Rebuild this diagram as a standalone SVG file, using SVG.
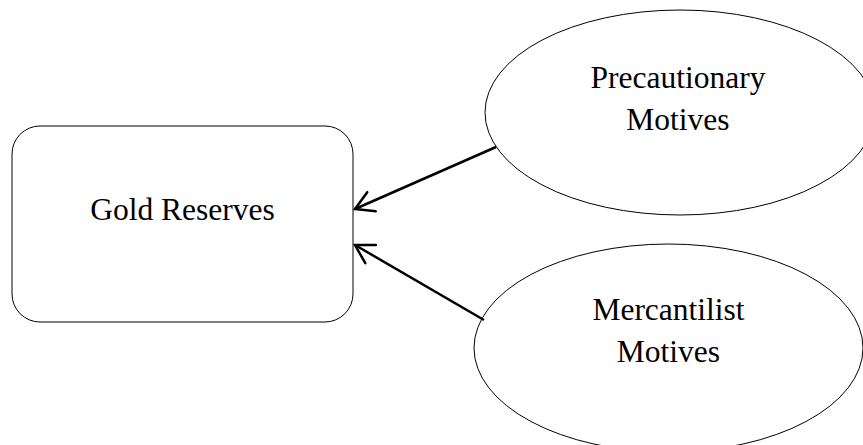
<svg xmlns="http://www.w3.org/2000/svg" width="863" height="445" viewBox="0 0 863 445">
<style>
.node{fill:#fff;stroke:#000;stroke-width:1}
.lbl{font-family:"Liberation Serif","Times New Roman",serif;font-size:31.5px;fill:#000;text-anchor:middle}
.conn{stroke:#000;stroke-width:2.5;fill:none}
</style>
<defs>
<marker id="openArrow" markerUnits="userSpaceOnUse" markerWidth="40" markerHeight="40" orient="auto" refX="0" refY="0" overflow="visible" viewBox="-20 -20 40 40">
<path d="M-18,-10.5 L0,0 L-18,10.5" fill="none" stroke="#000" stroke-width="2.5" stroke-linecap="round" stroke-linejoin="miter"/>
</marker>
</defs>
<rect width="863" height="445" fill="#fff"/>
<g id="gold-reserves">
<rect class="node" x="12" y="126" width="341" height="196" rx="28" ry="28"/>
<text class="lbl" x="182.5" y="220">Gold Reserves</text>
</g>
<g id="precautionary-motives">
<ellipse class="node" cx="680" cy="112.5" rx="195" ry="102.5"/>
<text class="lbl" x="678" y="88">Precautionary</text>
<text class="lbl" x="678" y="130">Motives</text>
</g>
<g id="mercantilist-motives">
<ellipse class="node" cx="668.5" cy="348" rx="194.5" ry="104"/>
<text class="lbl" x="668.5" y="320">Mercantilist</text>
<text class="lbl" x="668.5" y="362">Motives</text>
</g>
<g id="connectors">
<line class="conn" x1="496" y1="147" x2="355" y2="209" marker-end="url(#openArrow)"/>
<line class="conn" x1="484" y1="320" x2="355" y2="245" marker-end="url(#openArrow)"/>
</g>
</svg>
